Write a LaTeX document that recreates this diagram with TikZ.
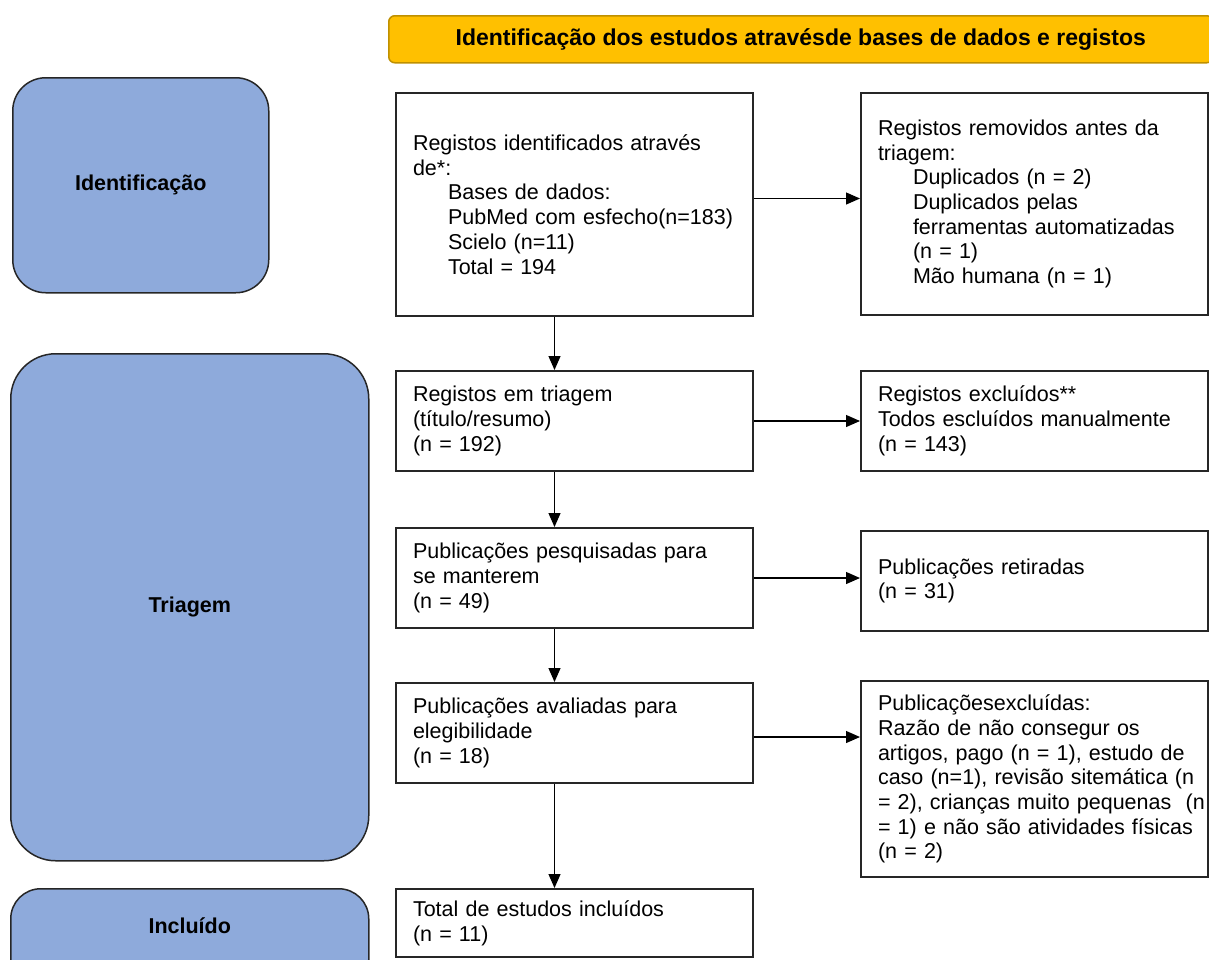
\documentclass[tikz,border=0pt]{standalone}
\usepackage{fontspec}
\setmainfont{Liberation Sans}
\usepackage{tikz}
\usetikzlibrary{arrows.meta,positioning,calc}

\definecolor{phaseblue}{HTML}{8EAADB}
\definecolor{bannergold}{HTML}{FFC000}
\definecolor{bannerline}{HTML}{BF9000}
\newcommand{\subind}{\hspace*{35pt}}

\begin{document}
\begin{tikzpicture}[x=1pt, y=-1pt,
  phase/.style={rectangle, draw=black!85, line width=1.5pt, fill=phaseblue,
    anchor=north west, font=\bfseries\fontsize{21.5}{24.7}\selectfont},
  box/.style={rectangle, draw=black!85, line width=2pt, fill=white,
    anchor=north west, align=left, inner xsep=17pt, inner ysep=0pt,
    font=\fontsize{21.5}{24.7}\selectfont},
  arr/.style={-{Triangle[length=14pt,width=12pt]}, line width=1.2pt}
]
\useasboundingbox (0,0) rectangle (1209,959);

% banner
\node[rectangle, draw=bannerline, line width=1.5pt, fill=bannergold,
  rounded corners=6pt, anchor=north west, minimum width=824pt,
  minimum height=47pt, font=\bfseries\fontsize{23}{26}\selectfont] (banner)
  at (388,15) {Identificação dos estudos atravésde bases de dados e registos};

% phases
\node[phase, rounded corners=33pt, minimum width=256pt, minimum height=215pt]
  (idphase) at (12,77) {Identificação};
\node[phase, rounded corners=45pt, minimum width=358pt, minimum height=507pt]
  (triphase) at (10,353) {Triagem};
\node[phase, rounded corners=30pt, minimum width=358pt, minimum height=101pt,
  text height=20pt, text depth=31.6pt] (incphase) at (10,888) {Incluído};

% main column
\node[box, minimum height=223pt, text width=323pt] (ident) at (395,92)
  {Registos identificados através\\ de*:\\
   \subind Bases de dados:\\ \subind PubMed com esfecho(n=183)\\
   \subind Scielo (n=11)\\ \subind Total = 194};
\node[box, minimum height=100pt, text width=323pt] (screened) at (395,370)
  {Registos em triagem\\ (título/resumo)\\ (n = 192)};
\node[box, minimum height=100pt, text width=323pt] (sought) at (395,527)
  {Publicações pesquisadas para\\ se manterem\\ (n = 49)};
\node[box, minimum height=100pt, text width=323pt] (assessed) at (395,682)
  {Publicações avaliadas para\\ elegibilidade\\ (n = 18)};
\node[box, minimum height=68pt, text width=323pt] (included) at (395,888)
  {Total de estudos incluídos\\ (n = 11)};

% side column
\node[box, minimum height=222pt, text width=313pt] (removed) at (860,92)
  {Registos removidos antes da\\ triagem:\\
   \subind Duplicados (n = 2)\\ \subind Duplicados pelas\\
   \subind \mbox{ferramentas automatizadas}\\ \subind (n = 1)\\
   \subind Mão humana (n = 1)};
\node[box, minimum height=100pt, text width=313pt] (excluded) at (860,370)
  {Registos excluídos**\\ Todos escluídos manualmente\\ (n = 143)};
\node[box, minimum height=100pt, text width=313pt] (retired) at (860,530)
  {Publicações retiradas\\ (n = 31)};
\node[box, minimum height=196pt, text width=313pt] (pubexcl) at (860,680)
  {Publicaçõesexcluídas:\\ Razão de não consegur os\\
   \mbox{artigos, pago (n = 1), estudo de}\\
   \mbox{caso (n=1), revisão sitemática (n}\\
   \mbox{= 2), crianças muito pequenas\ \ (n}\\
   \mbox{= 1) e não são atividades físicas}\\ (n = 2)};

% arrows
\draw[arr] ([yshift=6pt]ident.east) -- ([yshift=6pt]ident.east -| removed.west);
\draw[arr] (screened.east) -- (screened.east -| excluded.west);
\draw[arr] (sought.east) -- (sought.east -| retired.west);
\draw[arr] ([yshift=-4pt]assessed.east) -- ([yshift=-4pt]assessed.east -| pubexcl.west);
\draw[arr] ([xshift=-20pt]ident.south) -- ([xshift=-20pt]screened.north);
\draw[arr] ([xshift=-20pt]screened.south) -- ([xshift=-20pt]sought.north);
\draw[arr] ([xshift=-20pt]sought.south) -- ([xshift=-20pt]assessed.north);
\draw[arr] ([xshift=-20pt]assessed.south) -- ([xshift=-20pt]included.north);
\end{tikzpicture}
\end{document}
